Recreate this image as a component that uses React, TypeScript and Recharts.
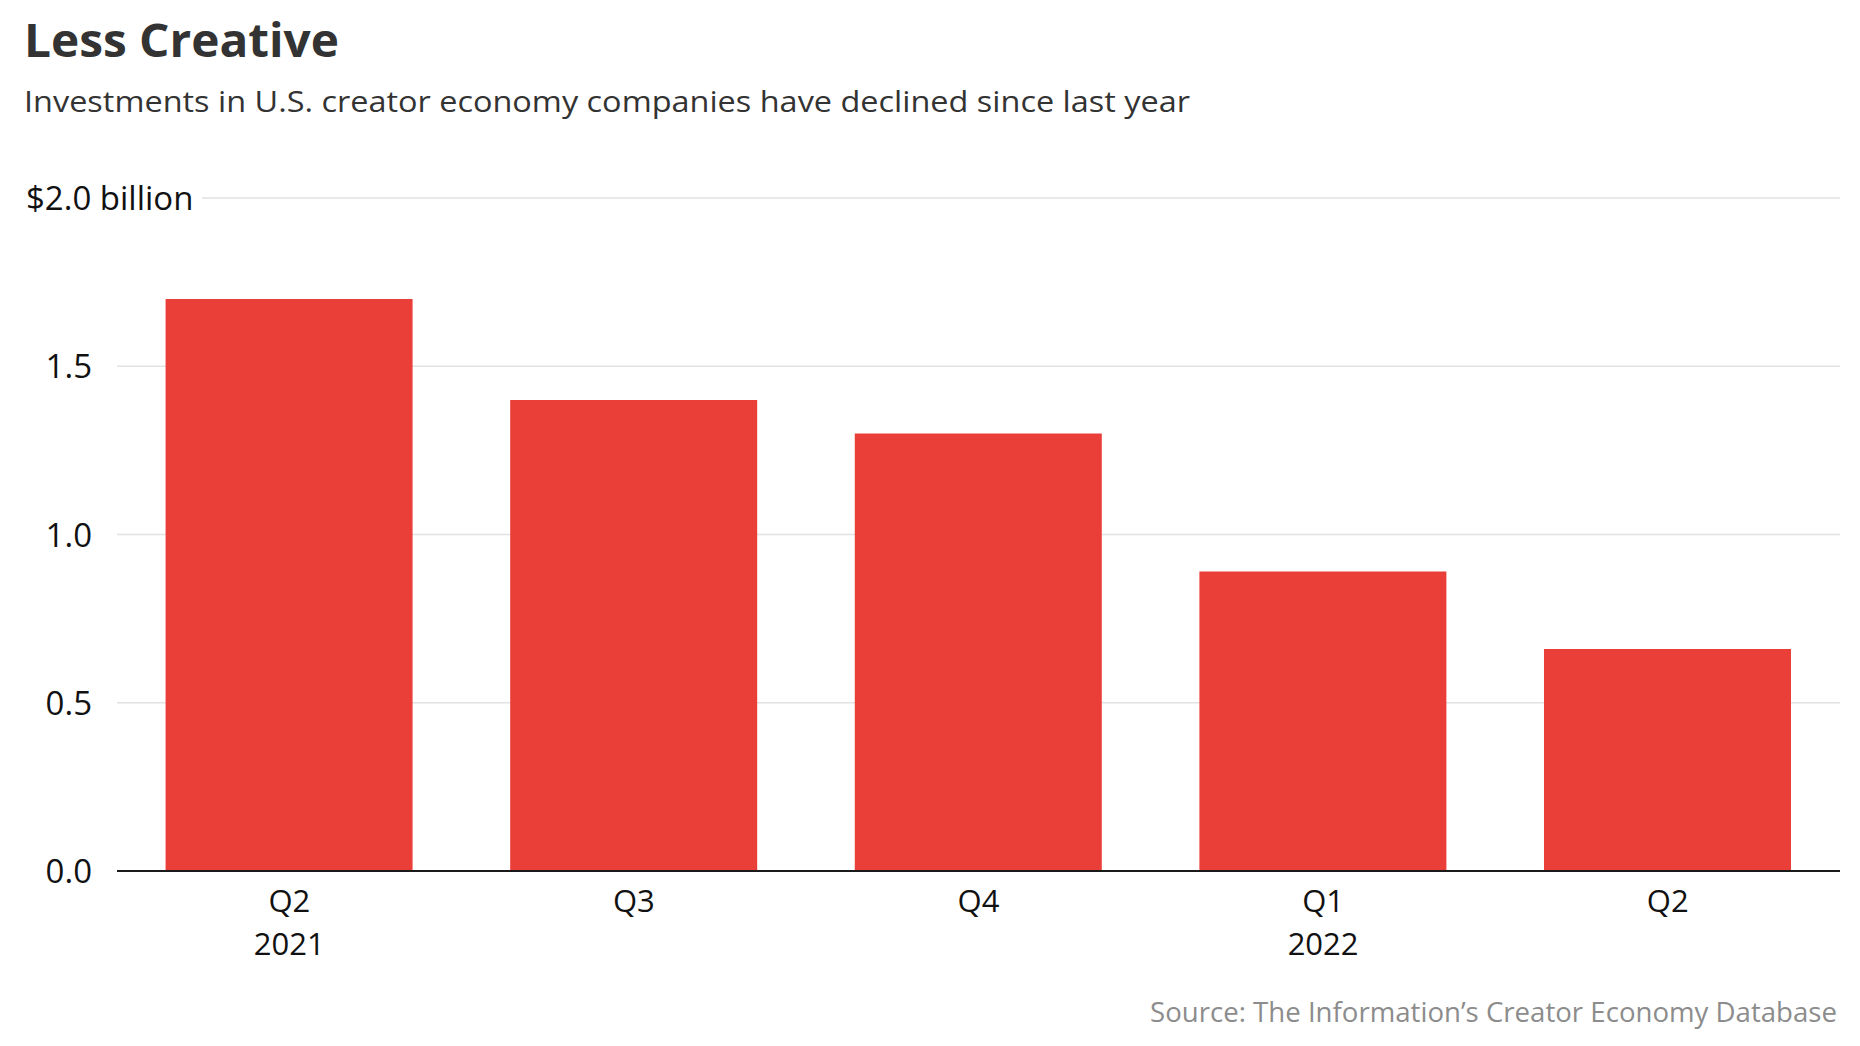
import React from "react";
import { BarChart, Bar, XAxis, YAxis, CartesianGrid } from "recharts";

// quarterly investment totals, $ billions
const categories = ["Q2 2021", "Q3 2021", "Q4 2021", "Q1 2022", "Q2 2022"];
const quarterLabels = ["Q2", "Q3", "Q4", "Q1", "Q2"];
const yearLabels = ["2021", "", "", "2022", ""];
const investments = [1.7, 1.4, 1.3, 0.89, 0.66];
const yTicks = [0, 0.5, 1, 1.5, 2];

const data = categories.map((name, i) => ({ name, value: investments[i] }));

const W = 1860;
const H = 1046;
const FONT = "'Open Sans', Lato, sans-serif";
const PLOT_TOP = 198;

function XTick(props: any) {
  const { x, y, index } = props;
  return (
    <g>
      <text x={x} y={y + 41} textAnchor="middle" fontSize={31} fill="#111" fontFamily={FONT}>
        {quarterLabels[index]}
      </text>
      {yearLabels[index] ? (
        <text x={x} y={y + 84} textAnchor="middle" fontSize={31} fill="#111" fontFamily={FONT}>
          {yearLabels[index]}
        </text>
      ) : null}
    </g>
  );
}

function YTick(props: any) {
  const { y, payload } = props;
  const v = payload.value;
  if (v === 2) {
    return (
      <text x={26} y={y + 12} textAnchor="start" fontSize={33} fill="#111" fontFamily={FONT}>
        $2.0 billion
      </text>
    );
  }
  return (
    <text x={92} y={y + 12} textAnchor="end" fontSize={33} fill="#111" fontFamily={FONT}>
      {v.toFixed(1)}
    </text>
  );
}

function GridLine(props: any) {
  const { x1, x2, y1, y2 } = props;
  // top line starts after the "$2.0 billion" label
  const start = Math.abs(y1 - PLOT_TOP) < 1 ? 202 : x1;
  return <line key={props.key} x1={start} x2={x2} y1={y1} y2={y2} stroke="#e2e2e2" strokeWidth={1.5} />;
}

export default function App() {
  return (
    <div style={{ position: "absolute", left: 0, top: 0, width: W, height: H, background: "#fff" }}>
      <BarChart
        width={W}
        height={H}
        data={data}
        margin={{ top: PLOT_TOP, right: 20, left: 0, bottom: 75 }}
        barCategoryGap="14.1%"
      >
        <CartesianGrid vertical={false} horizontal={GridLine} />
        <XAxis
          dataKey="name"
          height={100}
          tick={<XTick />}
          tickLine={false}
          tickSize={0}
          tickMargin={0}
          axisLine={{ stroke: "#1a1a1a", strokeWidth: 2 }}
          interval={0}
        />
        <YAxis
          domain={[0, 2]}
          ticks={yTicks}
          width={117}
          tick={<YTick />}
          tickLine={false}
          axisLine={false}
          interval={0}
        />
        <Bar dataKey="value" fill="#ea3e38" isAnimationActive={false} />
      </BarChart>
      <svg width={W} height={H} style={{ position: "absolute", left: 0, top: 0, pointerEvents: "none" }}>
        <text
          x={24}
          y={57}
          fontSize={47}
          fontWeight={700}
          fill="#333"
          fontFamily={FONT}
          textLength={315}
          lengthAdjust="spacingAndGlyphs"
        >
          Less Creative
        </text>
        <text
          x={24}
          y={112}
          fontSize={30}
          fill="#333"
          fontFamily={FONT}
          textLength={1166}
          lengthAdjust="spacingAndGlyphs"
        >
          Investments in U.S. creator economy companies have declined since last year
        </text>
        <text
          x={1150}
          y={1022}
          fontSize={28}
          fill="#8c8c8c"
          fontFamily={FONT}
          textLength={687}
          lengthAdjust="spacingAndGlyphs"
        >
          Source: The Information’s Creator Economy Database
        </text>
      </svg>
    </div>
  );
}
